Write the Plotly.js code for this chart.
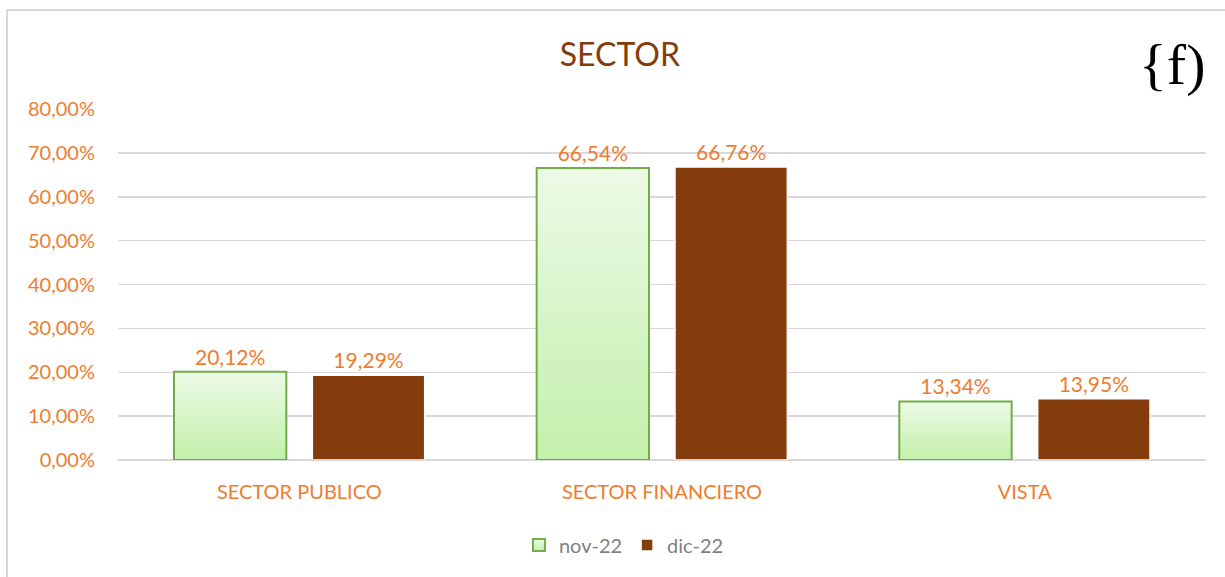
<!DOCTYPE html>
<html>
<head>
<meta charset="utf-8">
<script src="https://cdn.plot.ly/plotly-3.0.1.min.js"></script>
<style>html,body{margin:0;padding:0;background:#fff;}#chart{width:1225px;height:577px;}</style>
</head>
<body>
<div id="chart"></div>
<script>
const categories = ["SECTOR PUBLICO", "SECTOR FINANCIERO", "VISTA"];
const seriesNames = ["nov-22", "dic-22"];
const nov22 = [20.12, 66.54, 13.34];
const dic22 = [19.29, 66.76, 13.95];
const yTickVals = [0, 10, 20, 30, 40, 50, 60, 70, 80];
const yTickText = ["0,00%", "10,00%", "20,00%", "30,00%", "40,00%", "50,00%", "60,00%", "70,00%", "80,00%"];

const orange = "#ED7D31";
const font = "Lato, 'Open Sans', sans-serif";

const traces = [
  {
    type: "bar", name: seriesNames[0], x: categories, y: nov22,
    marker: {color: "#d9f5cb", line: {color: "#70AD47", width: 2}},
    texttemplate: "%{y:.2f}%", textposition: "outside", cliponaxis: false,
    textfont: {color: orange, size: 21, family: font}, hoverinfo: "skip"
  },
  {
    type: "bar", name: seriesNames[1], x: categories, y: dic22,
    marker: {color: "#843C0C", line: {color: "#ffffff", width: 1.5}},
    texttemplate: "%{y:.2f}%", textposition: "outside", cliponaxis: false,
    textfont: {color: orange, size: 21, family: font}, hoverinfo: "skip"
  }
];

const layout = {
  width: 1225, height: 577,
  margin: {l: 118, r: 19, t: 109, b: 117},
  paper_bgcolor: "#ffffff", plot_bgcolor: "#ffffff",
  separators: ",.",
  font: {family: font, color: orange},
  title: {text: "SECTOR", font: {size: 32, color: "#843C0C", family: font},
          x: 0.506, xanchor: "center", y: 1 - 55/577, yanchor: "middle", yref: "container"},
  barmode: "group", bargap: 0.237, bargroupgap: 0.188,
  xaxis: {tickfont: {size: 20, color: orange, family: font}, showline: false, ticks: "",
          ticklabelstandoff: 18, showgrid: false},
  yaxis: {range: [0, 80], tickmode: "array", tickvals: yTickVals, ticktext: yTickText,
          tickfont: {size: 20, color: orange, family: font}, gridcolor: "#d9d9d9", gridwidth: 1.5,
          zeroline: true, zerolinecolor: "#d9d9d9", zerolinewidth: 1.5, showline: false,
          ticklabelstandoff: 22, fixedrange: true},
  showlegend: true,
  legend: {orientation: "h", x: 0.465, xanchor: "center", y: (460 - 545) / 351, yanchor: "middle",
           font: {size: 20, color: "#7f7f7f", family: font}, itemwidth: 30, traceorder: "normal"},
  shapes: [
    {type: "rect", xref: "paper", yref: "paper", x0: (7 - 118) / 1088, x1: 1.2, y0: -0.5, y1: (460 - 10) / 351,
     line: {color: "#d9d9d9", width: 2}, fillcolor: "rgba(0,0,0,0)", layer: "below"}
  ],
  annotations: [
    {text: "{f)", xref: "paper", yref: "paper", x: (1172 - 118) / 1088, y: (460 - 64) / 351,
     xanchor: "center", yanchor: "middle", showarrow: false,
     font: {family: "'Liberation Serif', 'DejaVu Serif', serif", size: 58, color: "#000000"}}
  ]
};

Plotly.newPlot("chart", traces, layout, {displayModeBar: false, staticPlot: true}).then(function (gd) {
  const svg = gd.querySelector("svg.main-svg");
  const ns = "http://www.w3.org/2000/svg";
  let defs = svg.querySelector("defs");
  if (!defs) { defs = document.createElementNS(ns, "defs"); svg.insertBefore(defs, svg.firstChild); }
  const lg = document.createElementNS(ns, "linearGradient");
  lg.setAttribute("id", "novGrad");
  lg.setAttribute("x1", "0"); lg.setAttribute("y1", "0"); lg.setAttribute("x2", "0"); lg.setAttribute("y2", "1");
  [["0%", "#ecfae6"], ["100%", "#c3f0ab"]].forEach(function (s) {
    const st = document.createElementNS(ns, "stop");
    st.setAttribute("offset", s[0]); st.setAttribute("stop-color", s[1]);
    lg.appendChild(st);
  });
  defs.appendChild(lg);
  const traceGroups = gd.querySelectorAll(".barlayer .trace");
  if (traceGroups.length) {
    traceGroups[0].querySelectorAll(".point path").forEach(function (p) {
      p.style.fill = "url(#novGrad)";
    });
  }
  const legendPts = gd.querySelectorAll(".legend .traces");
  if (legendPts.length) {
    const lp = legendPts[0].querySelector(".legendpoints path");
    if (lp) lp.style.fill = "url(#novGrad)";
  }
});
</script>
</body>
</html>
